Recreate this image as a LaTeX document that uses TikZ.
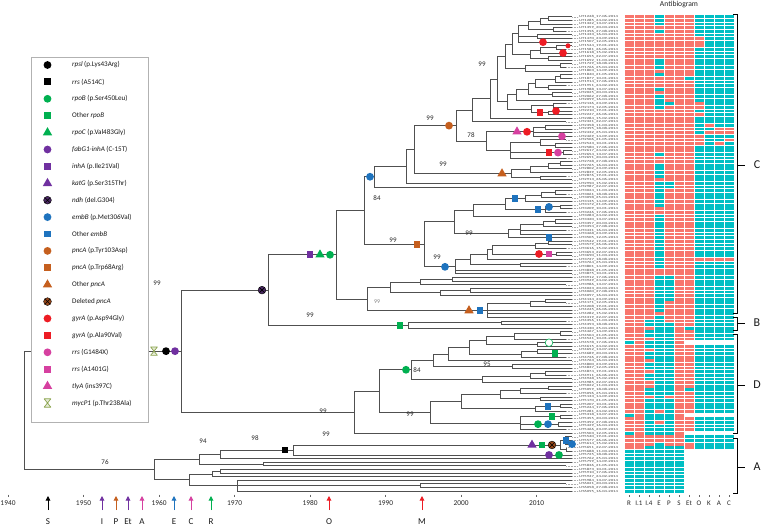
\documentclass[tikz,border=0pt]{standalone}
\usepackage{fontspec}
\setmainfont{Carlito}
\usetikzlibrary{calc,shapes.geometric,arrows.meta}
\definecolor{hmred}{RGB}{248,118,109}
\definecolor{hmteal}{RGB}{0,191,196}
\definecolor{cgreen}{RGB}{0,176,80}
\definecolor{cpurple}{RGB}{112,48,160}
\definecolor{cblue}{RGB}{30,115,190}
\definecolor{corange}{RGB}{197,95,30}
\definecolor{cred}{RGB}{237,28,36}
\definecolor{cpink}{RGB}{214,64,160}
\definecolor{cdark}{RGB}{75,40,100}
\definecolor{cbrown}{RGB}{150,70,25}
\definecolor{colive}{RGB}{140,165,80}
\definecolor{branchc}{RGB}{80,80,80}
\makeatletter
\newcommand\tn[3]{%
  \tn@getfirst#3,\@nil
  \foreach \ch in {#3}{\xdef\tn@last{\ch}}%
  \path let \p1=($(\tn@first)!.5!(\tn@last)$) in (#2pt,\y1) coordinate (#1);
  \foreach \ch in {#3}{\draw[branch] (#1) |- (\ch);}%
}
\def\tn@getfirst#1,#2\@nil{\def\tn@first{#1}}
\newcount\hmc
\def\hmrow#1#2{\hmc=0\relax\def\hmy{#1}\expandafter\hm@next#2\relax}
\def\hm@next#1{\ifx\relax#1\else\hm@cell#1\advance\hmc by 1\relax\expandafter\hm@next\fi}
\def\hm@cell#1{\if r#1\hm@fill{hmred}\fi\if t#1\hm@fill{hmteal}\fi}
\def\hm@fill#1{\fill[#1] ({624.5+10*\the\hmc},{\hmy+0.4}) rectangle ++(9,2.82);}
\makeatother
\tikzset{
  branch/.style={draw=branchc,line width=0.9pt},
  leader/.style={draw=gray!65,line width=0.5pt,dash pattern=on 0.6pt off 0.9pt},
  leaflab/.style={anchor=west,inner sep=0pt,font=\fontsize{3.1}{3.1}\selectfont,text=black!75},
  mk/.style={inner sep=0pt,outer sep=0pt},
  mcirc/.style={mk,circle,minimum size=7.8pt},
  msq/.style={mk,rectangle,minimum size=6.9pt},
  mtri/.style={mk,regular polygon,regular polygon sides=3,minimum size=10.8pt},
  mx/.style={mk,circle,minimum size=7.8pt,draw=black,line width=0.4pt,
    path picture={\draw[black,line width=0.55pt]
      ($(path picture bounding box.center)+(45:4)$) -- ($(path picture bounding box.center)+(225:4)$)
      ($(path picture bounding box.center)+(135:4)$) -- ($(path picture bounding box.center)+(-45:4)$);}},
  mhg/.style={mk,rectangle,minimum width=9pt,minimum height=10pt,
    path picture={\filldraw[draw=colive,fill=colive!25,line width=0.7pt,line join=round]
      ($(path picture bounding box.center)+(-3.4,-4.2)$) -- ($(path picture bounding box.center)+(3.4,-4.2)$)
      -- ($(path picture bounding box.center)+(-3.4,4.2)$) -- ($(path picture bounding box.center)+(3.4,4.2)$) -- cycle;}},
  boot/.style={inner sep=0pt,font=\fontsize{7}{8}\selectfont,text=black!85},
  legtext/.style={anchor=west,inner sep=0pt,font=\fontsize{7.1}{8}\selectfont,text=black!90},
  yearlab/.style={inner sep=0pt,font=\fontsize{7.4}{8.5}\selectfont,text=black!85},
  arrlab/.style={inner sep=0pt,font=\fontsize{9}{10}\selectfont,text=black!90},
  collab/.style={inner sep=0pt,font=\fontsize{7}{8}\selectfont,text=black!85},
  cladelab/.style={inner sep=0pt,font=\fontsize{12}{13}\selectfont,text=black!90},
  bracket/.style={draw=black,line width=0.9pt},
}
\newcommand\legent[4]{\node[#3] (lgs#1) at (47.5,#2) {};\node[legtext] (lgt#1) at (72,#2) {#4};}
\begin{document}
\begin{tikzpicture}[x=1pt,y=-1pt]
\useasboundingbox (0,0) rectangle (764,527);
\fill[white] (0,0) rectangle (764,527);
% ---------- leaves ----------
\foreach \i in {1,...,132}{%
  \pgfmathsetmacro\yy{15+3.621*(\i-0.5)}%
  \pgfmathsetmacro\tx{ifthenelse(mod(\i,5)==0,566,572)}%
  \pgfmathtruncatemacro\uid{mod(\i*37+211,8999)+1000}%
  \pgfmathtruncatemacro\dd{mod(\i*7,18)+10}%
  \pgfmathtruncatemacro\mm{mod(\i*5,9)+1}%
  \coordinate (l\i) at (\tx,\yy);
  \coordinate (q\i) at (578,\yy);
  \draw[leader] (l\i) -- (q\i);
  \node[leaflab] (lab\i) at (579,\yy) {\scalebox{1.5}[1]{UT\uid\_\dd-0\mm-2014}};
}
% ---------- clade C ----------
\tn{t1}{548}{l1,l2}
\tn{t2}{540}{t1,l3}
\tn{t3}{553}{l4,l5}
\tn{t4}{528}{t2,t3}
\tn{t5}{537}{l6,l7}
\tn{t6}{518}{t4,t5,l8}
\tn{t7}{556}{l9,l10}
\tn{t8}{540}{t7,l11}
\tn{t9}{548}{l12,l13}
\tn{t10}{530}{t8,t9}
\tn{t11}{512}{t6,t10}
\tn{t12}{560}{l14,l15}
\tn{t13}{525}{t12,l16}
\tn{t14}{505}{t11,t13}
\tn{t15}{560}{l17,l18}
\tn{t16}{555}{t15,l19}
\tn{t17}{548}{l20,l21}
\tn{t18}{535}{t16,t17}
\tn{t19}{552}{l22,l23}
\tn{t20}{528}{t18,t19}
\tn{t21}{516}{t20,l24}
\tn{t22}{553}{l25,l26}
\tn{t23}{548}{l27,l28}
\tn{t24}{531}{t22,t23}
\tn{t25}{507}{t21,t24}
\tn{t26}{497}{t14,t25}
\tn{t27}{490}{t26,l29}
\tn{t28}{472}{t27,l30}
\tn{u1}{545}{l31,l32}
\tn{u2}{533}{u1,l33,l34}
\tn{u3}{555}{l36,l37}
\tn{u4}{540}{l35,u3}
\tn{u5}{563}{l38,l39}
\tn{u6}{510}{u4,u5,l40}
\tn{u7}{486}{u2,u6}
\tn{t29}{456}{t28,u7}
\tn{v1}{560}{l41,l42}
\tn{v2}{548}{v1,l43}
\tn{v3}{530}{v2,l44}
\tn{v4}{540}{l45,l46}
\tn{v5}{511}{v3,v4}
\tn{t30}{414}{t29,v5}
\tn{t31}{406}{t30,l47}
\tn{t32}{374}{t31,l48}
\tn{w1}{555}{l49,l50}
\tn{w2}{541}{w1,l51}
\tn{w3}{525}{w2,l52}
\tn{w4}{560}{l53,l54}
\tn{w5}{545}{w4,l55}
\tn{w6}{505}{w3,w5}
\tn{w7}{473}{w6,l56}
\tn{w8}{555}{l57,l58}
\tn{w9}{543}{w8,l59}
\tn{w10}{520}{w9,l60,l61}
\tn{w11}{508}{w10,l62}
\tn{w12}{454}{w7,w11}
\tn{x1}{548}{l63,l64}
\tn{x2}{535}{x1,l65}
\tn{x3}{556}{l66,l67}
\tn{x4}{492}{x2,x3}
\tn{x5}{487}{x4,l68}
\tn{x6}{520}{l69,l70}
\tn{x7}{470}{x5,x6}
\tn{x8}{455}{x7,l71,l72}
\tn{t33}{424}{w12,x8}
\tn{t34}{364}{t32,t33}
\tn{y1}{452}{l73,l74}
\tn{y2}{420}{y1,l75}
\tn{y3}{470}{l76,l77}
\tn{y4}{440}{y3,l78}
\tn{y5}{390}{y2,y4}
\tn{z1}{545}{l79,l80}
\tn{z2}{530}{z1,l81}
\tn{z3}{487}{z2,l82,l83,l84}
\tn{t35}{367}{y5,z3}
\tn{t36}{336}{t34,t35}
% ---------- clade B ----------
\tn{b1}{501}{l85,l86}
\tn{b2}{408}{b1,l87}
\tn{t37}{268}{t36,b2}
% ---------- clade D ----------
\tn{d1}{560}{l88,l89}
\tn{d2}{514}{d1,l90}
\tn{d3}{537}{l91,l92}
\tn{d4}{486}{d2,d3}
\tn{d5}{537}{l93,l94}
\tn{d6}{521}{d5,l95}
\tn{d7}{469}{d4,d6}
\tn{d8}{448}{d7,l96}
\tn{d9}{512}{l97,l98}
\tn{d10}{433}{d8,d9}
\tn{d11}{545}{l99,l100}
\tn{d12}{530}{d11,l101}
\tn{d13}{482}{d12,l102}
\tn{d14}{411}{d10,d13}
\tn{d15}{548}{l103,l104}
\tn{d16}{520}{d15,l105}
\tn{d16b}{540}{l106,l107}
\tn{d16c}{500}{d16,d16b}
\tn{d17}{560}{l108,l109}
\tn{d18}{535}{d17,l110}
\tn{d19}{461}{d16c,d18}
\tn{d20}{560}{l111,l112}
\tn{d21}{558}{l113,l114}
\tn{d22}{520}{d20,d21,l115}
\tn{d23}{430}{d19,d22}
\tn{d24}{379}{d14,d23}
\tn{d25}{354}{d24,l116}
\tn{t38}{181}{t37,d25}
% ---------- clade A ----------
\tn{e2}{565}{l117,l118,l119}
\tn{e3}{566}{l120,l121}
\tn{e4}{560}{e2,e3}
\tn{e5}{293}{e4,l122}
\tn{e6}{220}{e5,l123}
\tn{g1}{263}{l124,l125}
\tn{e7}{199}{e6,g1}
\tn{g2}{220}{l126,l127}
\tn{g3}{212}{g2,l128}
\tn{g5}{420}{l130,l131}
\tn{g7}{237}{l129,g5,l132}
\tn{g8}{189}{g3,g7}
\tn{a0}{154}{e7,g8}
\tn{root}{24}{t38,a0}
% ---------- markers ----------
\node[mcirc,fill=cred] (m1) at (543,0 |- l8) {};
\node[mcirc,fill=cred] (m2) at (563,0 |- l11) {};
\node[mk,circle,minimum size=5pt,fill=cred] (m3) at (568,0 |- l9) {};
\node[mcirc,fill=cred] (m4) at (556,0 |- l27) {};
\node[msq,fill=cred] (m5) at (540,0 |- t23) {};
\node[mtri,fill=cpink] (m6) at (517,0 |- u2) {};
\node[mcirc,fill=cred] (m7) at (527,0 |- u2) {};
\node[mcirc,fill=cpink] (m8) at (562,0 |- l34) {};
\node[msq,fill=cred] (m9) at (549,0 |- u5) {};
\node[mcirc,fill=cpink] (m10) at (558,0 |- u5) {};
\node[mtri,fill=corange] (m11) at (502,0 |- v5) {};
\node[mcirc,fill=corange] (m12) at (449,0 |- t29) {};
\node[mcirc,fill=cblue] (m13) at (370,0 |- t32) {};
\node[msq,fill=corange] (m14) at (417,0 |- t33) {};
\node[msq,fill=cblue] (m15) at (515,0 |- w3) {};
\node[mcirc,fill=cblue] (m16) at (549,0 |- w4) {};
\node[msq,fill=cblue] (m17) at (538,0 |- w5) {};
\node[msq,fill=cblue] (m18) at (549,0 |- l62) {};
\node[mcirc,fill=cblue] (m19) at (445,0 |- x8) {};
\node[mcirc,fill=cred] (m20) at (539,0 |- x3) {};
\node[msq,fill=cpink] (m21) at (549,0 |- x3) {};
\node[mtri,fill=corange] (m22) at (469,0 |- z3) {};
\node[msq,fill=cblue] (m23) at (480,0 |- z3) {};
\node[msq,fill=cpurple] (m24) at (310,0 |- t36) {};
\node[mtri,fill=cgreen] (m25) at (320,0 |- t36) {};
\node[mcirc,fill=cgreen] (m26) at (330,0 |- t36) {};
\node[mx,fill=cdark] (m27) at (262,0 |- t37) {};
\node[msq,fill=cgreen] (m28) at (400,0 |- b2) {};
\node[mcirc,fill=cgreen] (m29) at (406,0 |- d14) {};
\node[mk,circle,minimum size=7.6pt,draw=cgreen,fill=white,line width=0.6pt] (m30) at (549,0 |- l91) {};
\node[msq,fill=cgreen] (m31) at (555,0 |- l94) {};
\node[msq,fill=cblue] (m32) at (548,0 |- d17) {};
\node[msq,fill=cgreen] (m33) at (552,0 |- d20) {};
\node[mcirc,fill=cgreen] (m34) at (538,0 |- d21) {};
\node[mcirc,fill=cblue] (m35) at (548,0 |- d21) {};
\node[mhg] (m46) at (154,0 |- t38) {};
\node[mcirc,fill=black] (m36) at (166,0 |- t38) {};
\node[mcirc,fill=cpurple] (m37) at (175,0 |- t38) {};
\node[mtri,fill=cpurple] (m38) at (532,0 |- e4) {};
\node[msq,fill=cgreen] (m39) at (542,0 |- e4) {};
\node[mx,fill=cbrown] (m40) at (552,0 |- e4) {};
\node[msq,fill=cblue] (m41) at (566,0 |- l118) {};
\node[mcirc,fill=cblue] (m42) at (572,0 |- l119) {};
\node[mcirc,fill=cpurple] (m43) at (549,0 |- l122) {};
\node[mcirc,fill=cgreen] (m44) at (559,0 |- l122) {};
\node[msq,fill=black] (m45) at (285,0 |- e5) {};
% ---------- bootstrap values ----------
\node[boot] (bs1) at (157,283) {99};
\node[boot] (bs2) at (310,315) {99};
\node[boot] (bs3) at (323,411) {99};
\node[boot] (bs4) at (326,434) {99};
\node[boot] (bs5) at (255,438) {98};
\node[boot] (bs6) at (203,441) {94};
\node[boot] (bs7) at (105,462) {76};
\node[boot] (bs8) at (482,64) {99};
\node[boot] (bs9) at (430,118) {99};
\node[boot] (bs10) at (471,135) {78};
\node[boot] (bs11) at (443,164) {99};
\node[boot] (bs12) at (377,198) {84};
\node[boot] (bs13) at (393,240) {99};
\node[boot] (bs14) at (469,233) {99};
\node[boot] (bs15) at (437,257) {99};
\node[boot,text=black!50,font=\fontsize{5.8}{6}\selectfont] (bs16) at (377,302) {99};
\node[boot] (bs17) at (417,370) {84};
\node[boot] (bs18) at (487,364) {95};
\node[boot] (bs19) at (410,414) {99};
% ---------- heatmap ----------
\foreach \s [count=\i] in {%
rrrtrrrtttt,rrrtrrrtttt,rrrtrrrtttt,rrrrrrrtttt,rrrtrrrtttt,rrrrrrrtttt,rrrrrrrrttt,rrrrrrrrttt,rrrrrrrrttt,rrrrrrrtttt,%10
rrrrrrrtttt,rrrrrrrtttt,rrrtrrrtttt,rrrtrrrtttt,rrrtrrrtttt,rrrrrrrtttt,rrrtrrrtttt,rrrrrrttttt,rrrrrrrtttt,rrrrrrrtttt,%20
rrrtrrrtttt,rrrrrrrtttt,rrrtrrrtttt,rrrtrrrtttt,rrrttrrrttt,rrrtrrrrttt,rrrrrrrtttt,rrrrrrrrttt,rrrrrrrtttt,rrrrrrrtttt,%30
rrrrrrrtrtt,rrrrrrrttrr,rrrrrrrtrrr,rrrrrrrrttt,rrrrrrrrttr,rrrrrrrrtrt,rrrrrrrtttt,rrrrrrrtttt,rrrtrrrtttt,rrrrrrrtttt,%40
rrrrrrrtttt,rrrtrrrtttt,rrrtrrrtttt,rrrtrrrtttt,rrrtrrrtttt,rrrrrrrtttt,rrrttrrtttt,rrrttrrtttt,rrrtrrrtttt,rrrtrrrtttt,%50
rrrtrrrtttt,rrrtrrrtttt,rrrtrrrtttt,rrrrrrrtttt,rrrrrrrtttt,rrrtrrrtttt,rrrtrrrtttt,rrrtrrrtttt,rrrtrrrtttt,rrrtrrrtttt,%60
rrrtrrrtttt,rrrtrrrtttt,rrrtrrrtttt,rrrtrrrtttt,rrrtrrrtttt,rrrtrrrtttt,rrrtrrrtttt,rrrtrrrrrrr,rrrtrrrtttt,rrrtrrrtttt,%70
rrrrrrrtttt,rrrrrrrtttt,rrrttrrtttt,rrrttrrtttt,rrrttrrtttt,rrrttrrtttt,rrrttrrtttt,rrrttrrtttt,rrrttrrtttt,rrrtrrrtttt,%80
rrrtrrrtttt,rrrtrrrtttt,rrrrrrrtttt,rrrtrrrtttt,rrttrrrtttt,rrtttrrtttt,rrrttrttttt,rrtttrrtttt,rrtttrrtttt,rrrttrrtttt,%90
trtttrwwwww,rrtttrrtttt,rrrttrrtttt,rrtttrrtttt,rrtttrrtttt,rrrttrrtttt,rrtttrrtttt,rrtttrrtttt,rrrttrrtttt,rrtttrrtttt,%100
rrtttrrtttt,rrrttrrtttt,rrrttrrtttt,rrtttrttttt,rrtttrrtttt,rrrtrrrtttt,rrtttrrtttt,rrtttrrtttt,rrtttrrtttt,rrtrtrrtttt,%110
trtttrwwwww,rrtttrrtttt,rrtrtrrtttt,rrtttrrtttt,rrtttrrtttt,trtttrwwwww,rrrrrrttttt,rrrrrrttttt,rrrtrrrtttt,rrttttrtttt,%120
ttttttwwwww,ttttttwwwww,ttttttwwwww,ttttttwwwww,ttttttwwwww,ttttttwwwww,ttttttwwwww,ttttttwwwww,ttttttwwwww,ttttttwwwww,%130
ttttttwwwww,ttttttwwwww}{%
  \pgfmathsetmacro\yy{15+3.621*(\i-1)}%
  \hmrow{\yy}{\s}%
}
\node[collab,font=\fontsize{7.6}{8.5}\selectfont] (abtitle) at (679,5) {Antibiogram};
\foreach \lab [count=\k from 0] in {R,I.1,I.4,E,P,S,Et,O,K,A,C}{%
  \pgfmathsetmacro\cx{629+10*\k}%
  \draw[black!60,line width=0.4pt] (\cx,495) -- (\cx,497);
  \node[collab] (col\k) at (\cx,503) {\lab};
}
% ---------- clade brackets ----------
\draw[bracket] (733,14) -- (737,14) -- (737,313) -- (733,313);
\draw[bracket] (737,165) -- (745,165);
\node[cladelab] (cC) at (757,165) {C};
\draw[bracket] (733,317) -- (737,317) -- (737,330) -- (733,330);
\draw[bracket] (737,323) -- (745,323);
\node[cladelab] (cB) at (757,323) {B};
\draw[bracket] (733,334) -- (737,334) -- (737,433) -- (733,433);
\draw[bracket] (737,385) -- (745,385);
\node[cladelab] (cD) at (757,385) {D};
\draw[bracket] (733,438) -- (737,438) -- (737,493) -- (733,493);
\draw[bracket] (737,467) -- (745,467);
\node[cladelab] (cA) at (757,467) {A};
% ---------- time axis ----------
\foreach \yr in {1940,1950,...,2010}{%
  \pgfmathsetmacro\xx{8+(\yr-1940)*7.55}%
  \draw[black!60,line width=0.4pt] (\xx,494.5) -- (\xx,496.5);
  \node[yearlab] (yr\yr) at (\xx,503) {\yr};
}
\foreach \ax/\ac/\al in {48/black/S,102/cpurple/I,116/corange/P,128/cpurple/Et,142/cpink/A,174/cblue/E,191/cpink/C,211/cgreen/R,329/cred/O,422/cred/M}{%
  \coordinate (ab\al) at (\ax,510);
  \coordinate (at\al) at (\ax,496);
  \draw[\ac,line width=1pt,-{Triangle[length=4.5pt,width=4.5pt]}] (ab\al) -- (at\al);
  \node[arrlab] (al\al) at (\ax,522) {\al};
}
% ---------- legend ----------
\node[draw=gray!60,fill=white,line width=0.7pt,minimum width=117pt,minimum height=364.5pt,anchor=north west,inner sep=0pt] (legend) at (30.5,57) {};
\legent{0}{65.0}{mcirc,fill=black}{\textit{rpsl} (p.Lys43Arg)}
\legent{1}{81.9}{msq,fill=black}{\textit{rrs} (A514C)}
\legent{2}{98.8}{mcirc,fill=cgreen}{\textit{rpoB} (p.Ser450Leu)}
\legent{3}{115.7}{msq,fill=cgreen}{Other \textit{rpoB}}
\legent{4}{132.6}{mtri,fill=cgreen}{\textit{rpoC} (p.Val483Gly)}
\legent{5}{149.5}{mcirc,fill=cpurple}{\textit{fabG1-inhA} (C-15T)}
\legent{6}{166.4}{msq,fill=cpurple}{\textit{inhA} (p.Ile21Val)}
\legent{7}{183.3}{mtri,fill=cpurple}{\textit{katG} (p.Ser315Thr)}
\legent{8}{200.2}{mx,fill=cdark}{\textit{ndh} (del.G304)}
\legent{9}{217.1}{mcirc,fill=cblue}{\textit{embB} (p.Met306Val)}
\legent{10}{234.0}{msq,fill=cblue}{Other \textit{embB}}
\legent{11}{250.9}{mcirc,fill=corange}{\textit{pncA} (p.Tyr103Asp)}
\legent{12}{267.8}{msq,fill=corange}{\textit{pncA} (p.Trp68Arg)}
\legent{13}{284.7}{mtri,fill=corange}{Other \textit{pncA}}
\legent{14}{301.6}{mx,fill=cbrown}{Deleted \textit{pncA}}
\legent{15}{318.5}{mcirc,fill=cred}{\textit{gyrA} (p.Asp94Gly)}
\legent{16}{335.4}{msq,fill=cred}{\textit{gyrA} (p.Ala90Val)}
\legent{17}{352.3}{mcirc,fill=cpink}{\textit{rrs} (G1484X)}
\legent{18}{369.2}{msq,fill=cpink}{\textit{rrs} (A1401G)}
\legent{19}{386.1}{mtri,fill=cpink}{\textit{tlyA} (ins397C)}
\legent{20}{403.0}{mhg}{\textit{mycP1} (p.Thr238Ala)}
\end{tikzpicture}
\end{document}
